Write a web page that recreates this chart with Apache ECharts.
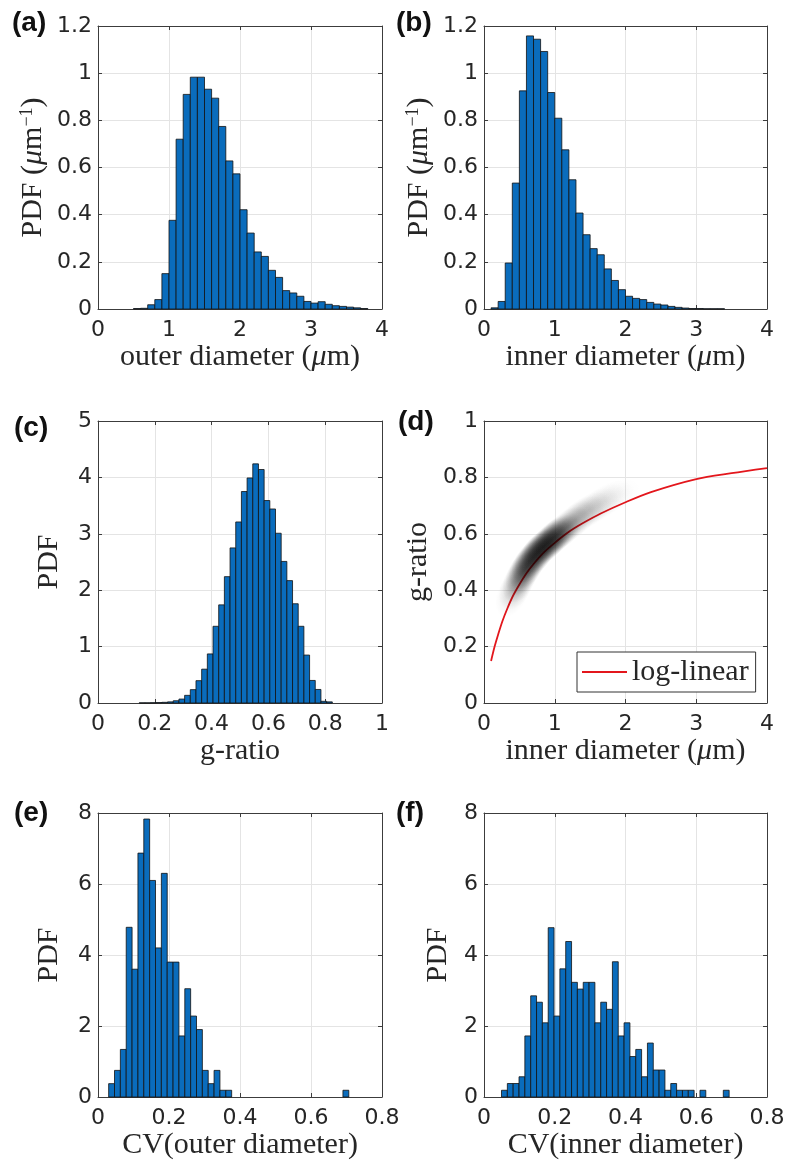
<!DOCTYPE html>
<html>
<head>
<meta charset="utf-8">
<script src="https://cdn.jsdelivr.net/npm/echarts@6.0.0/dist/echarts.min.js"></script>
<style>
html,body{margin:0;padding:0;background:#fff}
#main{width:788px;height:1166px}
</style>
</head>
<body>
<div id="main"></div>
<script>
var chart = echarts.init(document.getElementById('main'))

// (a) outer diameter, bins of 0.1 um starting at 0.5
var outerStart = 0.5, outerStep = 0.1
var outerPdf = [0.002, 0.003, 0.018, 0.04, 0.15, 0.376, 0.72, 0.91, 0.983, 0.983, 0.932,
	0.894, 0.774, 0.628, 0.573, 0.421, 0.322, 0.242, 0.223, 0.164, 0.134, 0.078, 0.068,
	0.054, 0.032, 0.025, 0.031, 0.02, 0.014, 0.011, 0.008, 0.005, 0.002]
// (b) inner diameter, bins of 0.1 um starting at 0.1
var innerStart = 0.1, innerStep = 0.1
var innerPdf = [0.005, 0.032, 0.195, 0.534, 0.925, 1.158, 1.144, 1.092, 0.918, 0.809, 0.675,
	0.548, 0.407, 0.315, 0.256, 0.23, 0.17, 0.121, 0.082, 0.054, 0.045, 0.04, 0.028, 0.021,
	0.017, 0.011, 0.007, 0.004, 0.002, 0.002, 0.001, 0.001, 0.001]
// (c) g-ratio, bins of 0.02
var gStart = 0.145, gStep = 0.02
var gPdf = [0.003, 0.003, 0.005, 0.008, 0.012, 0.02, 0.04, 0.07, 0.136, 0.237, 0.396, 0.60,
	0.87, 1.36, 1.74, 2.24, 2.75, 3.21, 3.75, 3.99, 4.24, 4.14, 3.59, 3.44, 3.01, 2.51, 2.17,
	1.76, 1.36, 0.85, 0.40, 0.24, 0.03, 0.02]
// (d) density cloud read along its ridge: [inner diameter, g-ratio, darkness]
var cloudPts = [[0.40, 0.385, 0.2], [0.45, 0.41, 0.4], [0.50, 0.435, 0.65], [0.55, 0.46, 0.85],
	[0.60, 0.48, 0.95], [0.65, 0.50, 1], [0.70, 0.515, 1], [0.75, 0.53, 1], [0.80, 0.545, 1],
	[0.85, 0.555, 1], [0.90, 0.567, 0.95], [0.95, 0.578, 0.9], [1.00, 0.59, 0.85],
	[1.05, 0.60, 0.75], [1.10, 0.61, 0.65], [1.20, 0.63, 0.52], [1.30, 0.65, 0.42],
	[1.40, 0.67, 0.34], [1.50, 0.685, 0.27], [1.60, 0.70, 0.2], [1.70, 0.715, 0.14],
	[1.80, 0.73, 0.09], [1.90, 0.74, 0.05]]
// (d) log-linear fit
var fitPts = [[0.1, 0.149], [0.15, 0.2], [0.2, 0.243], [0.26, 0.29], [0.33, 0.335],
	[0.4, 0.375], [0.5, 0.42], [0.6, 0.46], [0.7, 0.493], [0.85, 0.535], [1.0, 0.568],
	[1.2, 0.607], [1.4, 0.638], [1.65, 0.672], [2.0, 0.712], [2.36, 0.748], [3.0, 0.794],
	[3.5, 0.815], [4.0, 0.833]]
// (e) CV of outer diameter
var cvOutStart = 0.030, cvOutStep = 0.0165
var cvOutPdf = [0.376, 0.75, 1.34, 4.78, 3.6, 6.87, 7.83, 6.1, 4.2, 6.3, 3.8, 3.8, 1.72, 3.05,
	2.28, 1.9, 0.75, 0.376, 0.75, 0.19, 0.19, 0, 0, 0, 0, 0, 0, 0, 0, 0, 0, 0, 0, 0, 0, 0, 0,
	0, 0, 0, 0.19]
// (f) CV of inner diameter
var cvInStart = 0.0495, cvInStep = 0.0165
var cvInPdf = [0.19, 0.38, 0.38, 0.57, 1.72, 2.85, 2.67, 2.09, 4.77, 2.28, 3.61, 4.38, 3.23,
	3.04, 3.23, 3.23, 2.09, 2.67, 2.47, 3.81, 1.72, 2.09, 1.14, 1.34, 0.57, 1.52, 0.76, 0.76,
	0.19, 0.38, 0.19, 0.19, 0.19, 0, 0.19, 0, 0, 0, 0.19]

var ink = '#262626'
var frame = '#3c3c3c'
var barColor = '#0a6cbc'
var tickFont = 'DejaVu Sans'
var serif = 'Liberation Serif'

var boxes = [
	{left: 98, top: 26, width: 284, height: 283},
	{left: 484, top: 26, width: 283, height: 283},
	{left: 98, top: 421, width: 284, height: 282},
	{left: 484, top: 421, width: 283, height: 282},
	{left: 98, top: 813, width: 284, height: 284},
	{left: 484, top: 813, width: 283, height: 284}
]

var rich = {
	n: {fontFamily: serif, fontSize: 30, color: ink},
	i: {fontFamily: serif, fontSize: 30, fontStyle: 'italic', color: ink},
	s: {fontFamily: serif, fontSize: 18, color: ink, verticalAlign: 'top'}
}
var nameStyle = {fontFamily: serif, fontSize: 30, color: ink, rich: rich}

function axisPair(gi, min, max, step, name, gap, horiz) {
	var main = {
		gridIndex: gi, type: 'value', position: horiz ? 'bottom' : 'left',
		min: min, max: max, interval: step,
		name: name, nameLocation: 'middle', nameGap: gap, nameTextStyle: nameStyle,
		axisLine: {onZero: false, lineStyle: {color: frame, width: 1}},
		axisTick: {inside: true, length: 4, lineStyle: {color: frame}},
		axisLabel: {fontFamily: tickFont, fontSize: 22, color: ink, margin: horiz ? 10 : 6},
		splitLine: {show: true, lineStyle: {color: '#e4e4e4', width: 1}}
	}
	var other = {
		gridIndex: gi, type: 'value', position: horiz ? 'top' : 'right',
		min: min, max: max, interval: step,
		axisLine: {onZero: false, lineStyle: {color: frame, width: 1}},
		axisTick: {inside: true, length: 4, lineStyle: {color: frame}},
		axisLabel: {show: false},
		splitLine: {show: false}
	}
	return [main, other]
}

function hist(ax, start, step, vals) {
	var data = vals.map(function (v, i) {
		return [start + i * step, start + (i + 1) * step, v]
	})
	return {
		type: 'custom', xAxisIndex: ax, yAxisIndex: ax, silent: true,
		encode: {x: [0, 1], y: 2},
		data: data,
		renderItem: function (params, api) {
			var v = api.value(2)
			if (!v) return null
			var p0 = api.coord([api.value(0), 0])
			var p1 = api.coord([api.value(1), v])
			return {
				type: 'rect',
				shape: {x: p0[0], y: p1[1], width: p1[0] - p0[0], height: p0[1] - p1[1]},
				style: {fill: barColor, stroke: '#111', lineWidth: 0.8}
			}
		}
	}
}

var xAxes = [].concat(
	axisPair(0, 0, 4, 1, '{n|outer diameter (}{i|μ}{n|m)}', 32, true),
	axisPair(1, 0, 4, 1, '{n|inner diameter (}{i|μ}{n|m)}', 32, true),
	axisPair(2, 0, 1, 0.2, 'g-ratio', 25, true),
	axisPair(3, 0, 4, 1, '{n|inner diameter (}{i|μ}{n|m)}', 26, true),
	axisPair(4, 0, 0.8, 0.2, 'CV(outer diameter)', 28, true),
	axisPair(5, 0, 0.8, 0.2, 'CV(inner diameter)', 28, true)
)
var yAxes = [].concat(
	axisPair(0, 0, 1.2, 0.2, '{n|PDF (}{i|μ}{n|m}{s|−1}{n|)}', 50, false),
	axisPair(1, 0, 1.2, 0.2, '{n|PDF (}{i|μ}{n|m}{s|−1}{n|)}', 50, false),
	axisPair(2, 0, 5, 1, 'PDF', 34, false),
	axisPair(3, 0, 1, 0.2, 'g-ratio', 51, false),
	axisPair(4, 0, 8, 2, 'PDF', 34, false),
	axisPair(5, 0, 8, 2, 'PDF', 31, false)
)

// soft streaks laid along the ridge so the cloud stays elongated
var cloud = {
	type: 'custom', xAxisIndex: 6, yAxisIndex: 6, silent: true, z: 3,
	encode: {x: 0, y: 1},
	data: cloudPts,
	renderItem: function (params, api) {
		var i = params.dataIndex
		var c = api.coord([api.value(0), api.value(1)])
		var pa = cloudPts[Math.max(0, i - 1)], pb = cloudPts[Math.min(cloudPts.length - 1, i + 1)]
		var ca = api.coord([pa[0], pa[1]]), cb = api.coord([pb[0], pb[1]])
		var a = Math.min(1, api.value(2) * 0.36)
		return {
			type: 'circle',
			x: c[0], y: c[1],
			rotation: Math.atan2(-(cb[1] - ca[1]), cb[0] - ca[0]),
			scaleX: 1.6, scaleY: 1,
			shape: {cx: 0, cy: 0, r: 15},
			style: {
				fill: new echarts.graphic.RadialGradient(0.5, 0.5, 0.5, [
					{offset: 0, color: 'rgba(0,0,0,' + a + ')'},
					{offset: 0.4, color: 'rgba(0,0,0,' + (a * 0.7) + ')'},
					{offset: 1, color: 'rgba(0,0,0,0)'}
				])
			}
		}
	}
}

var letters = [['(a)', 12, 23], ['(b)', 396, 23], ['(c)', 14, 428],
	['(d)', 398, 422], ['(e)', 14, 813], ['(f)', 396, 813]]

chart.setOption({
	animation: false,
	backgroundColor: '#fff',
	grid: boxes.map(function (b) {
		return {left: b.left, top: b.top, width: b.width, height: b.height, containLabel: false}
	}),
	xAxis: xAxes,
	yAxis: yAxes,
	legend: {
		data: ['log-linear'], left: 577, top: 652, selectedMode: false,
		icon: 'rect', itemWidth: 45, itemHeight: 2, itemGap: 0,
		padding: [5, 7, 5, 5], borderColor: '#333', borderWidth: 1, backgroundColor: '#fff',
		textStyle: {fontFamily: serif, fontSize: 30, color: ink}
	},
	graphic: letters.map(function (l) {
		return {
			type: 'text', x: l[1], y: l[2],
			style: {text: l[0], fontFamily: 'Liberation Sans', fontWeight: 'bold', fontSize: 28,
				fill: '#111', verticalAlign: 'middle'}
		}
	}),
	series: [
		hist(0, outerStart, outerStep, outerPdf),
		hist(2, innerStart, innerStep, innerPdf),
		hist(4, gStart, gStep, gPdf),
		{
			type: 'line', name: 'log-linear', xAxisIndex: 6, yAxisIndex: 6,
			data: fitPts, smooth: 0.3, symbol: 'none', z: 2,
			lineStyle: {color: '#e3161c', width: 1.8}, itemStyle: {color: '#e3161c'}
		},
		cloud,
		hist(8, cvOutStart, cvOutStep, cvOutPdf),
		hist(10, cvInStart, cvInStep, cvInPdf)
	]
})
</script>
</body>
</html>
